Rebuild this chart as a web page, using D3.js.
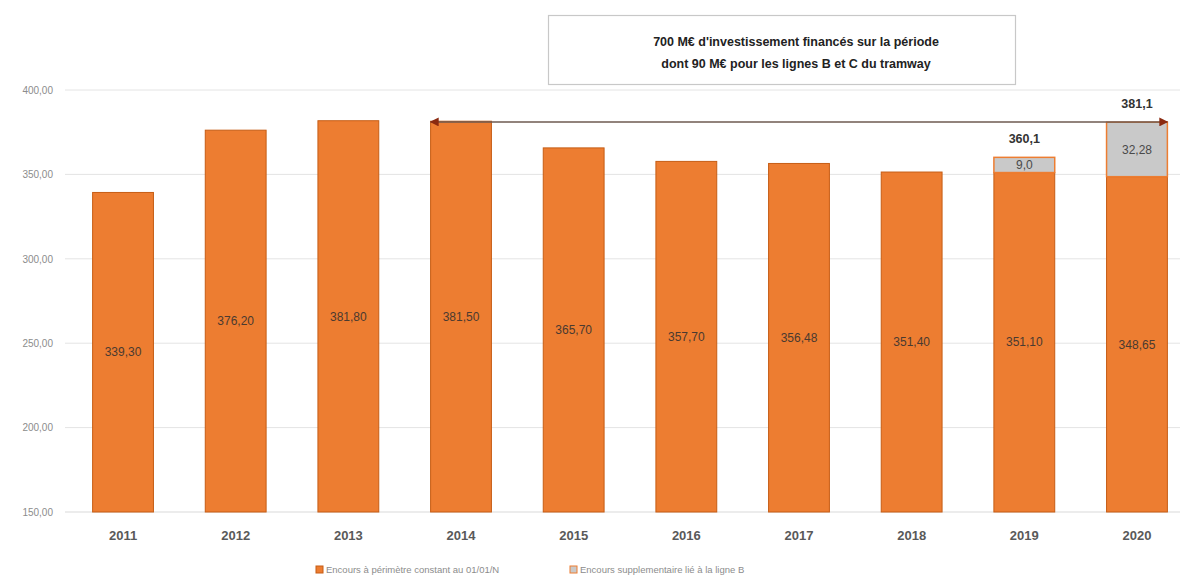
<!DOCTYPE html>
<html><head><meta charset="utf-8">
<script src="https://cdn.jsdelivr.net/npm/d3@7"></script>
<style>body{margin:0;background:#fff}svg{display:block}</style>
</head><body>
<svg id="c" width="1182" height="577"></svg>
<script>
const years = ["2011","2012","2013","2014","2015","2016","2017","2018","2019","2020"];
const baseValues = [339.30,376.20,381.80,381.50,365.70,357.70,356.48,351.40,351.10,348.65];
const baseLabels = ["339,30","376,20","381,80","381,50","365,70","357,70","356,48","351,40","351,10","348,65"];
const extraValues = [0,0,0,0,0,0,0,0,9.0,32.28];
const extraLabels = ["","","","","","","","","9,0","32,28"];
const totalLabels = ["","","","","","","","","360,1","381,1"];
const yTicks = [150,200,250,300,350,400];
const arrowValue = 381.1;
const arrowFrom = "2014", arrowTo = "2020";
const legendLabels = ["Encours à périmètre constant au 01/01/N","Encours supplementaire lié à la ligne B"];
const noteLines = ["700 M€ d'investissement financés sur la période","dont 90 M€ pour les lignes B et C du tramway"];

const svg = d3.select("#c");
const orange = "#ed7d31", orangeStroke = "#c65d15", grey = "#c9c9c9";
const x = d3.scaleBand().domain(years).range([66.7, 1193.3]).paddingInner(0.46).paddingOuter(0.23);
const y = d3.scaleLinear().domain([150, 400]).range([512, 90]);
const fmt = v => d3.format(".2f")(v).replace(".", ",");

// gridlines
svg.append("g").selectAll("line").data(yTicks).join("line")
  .attr("x1", 65).attr("x2", 1180).attr("y1", d => y(d)).attr("y2", d => y(d))
  .attr("stroke", d => d === 150 ? "#d9d9d9" : "#e4e4e4").attr("stroke-width", 1);

// y axis labels
const yAxis = d3.axisLeft(y).tickValues(yTicks).tickSize(0).tickFormat(fmt);
const ya = svg.append("g").attr("transform", "translate(56,0)").call(yAxis);
ya.select(".domain").remove();
ya.selectAll("text").attr("font-family", "Liberation Sans, Arial, sans-serif").attr("font-size", 10).attr("fill", "#8c8c8c");

// base bars
svg.append("g").selectAll("rect").data(years).join("rect")
  .attr("x", d => x(d)).attr("width", x.bandwidth())
  .attr("y", (d, i) => y(baseValues[i])).attr("height", (d, i) => y(150) - y(baseValues[i]))
  .attr("fill", orange).attr("stroke", orangeStroke).attr("stroke-width", 1);

// extra segments
svg.append("g").selectAll("rect").data(years.filter((d, i) => extraValues[i] > 0)).join("rect")
  .attr("x", d => x(d)).attr("width", x.bandwidth())
  .attr("y", d => { const i = years.indexOf(d); return y(baseValues[i] + extraValues[i]); })
  .attr("height", d => { const i = years.indexOf(d); return y(baseValues[i]) - y(baseValues[i] + extraValues[i]); })
  .attr("fill", grey).attr("stroke", orange).attr("stroke-width", 1.5);

// base labels
svg.append("g").selectAll("text").data(years).join("text")
  .attr("x", d => x(d) + x.bandwidth() / 2)
  .attr("y", (d, i) => y((baseValues[i] + 150) / 2))
  .attr("dy", "0.35em").attr("text-anchor", "middle")
  .attr("font-family", "Liberation Sans, Arial, sans-serif").attr("font-size", 12).attr("fill", "#4a3a30")
  .text((d, i) => baseLabels[i]);

// extra labels
svg.append("g").selectAll("text").data(years.filter((d, i) => extraValues[i] > 0)).join("text")
  .attr("x", d => x(d) + x.bandwidth() / 2)
  .attr("y", d => { const i = years.indexOf(d); return y(baseValues[i] + extraValues[i] / 2); })
  .attr("dy", "0.35em").attr("text-anchor", "middle")
  .attr("font-family", "Liberation Sans, Arial, sans-serif").attr("font-size", 12).attr("fill", "#4a4a4a")
  .text(d => extraLabels[years.indexOf(d)]);

// total labels
svg.append("g").selectAll("text").data(years.filter((d, i) => extraValues[i] > 0)).join("text")
  .attr("x", d => x(d) + x.bandwidth() / 2)
  .attr("y", d => { const i = years.indexOf(d); return y(baseValues[i] + extraValues[i]) - 14; })
  .attr("text-anchor", "middle")
  .attr("font-family", "Liberation Sans, Arial, sans-serif").attr("font-size", 12.5).attr("font-weight", "bold").attr("fill", "#333")
  .text(d => totalLabels[years.indexOf(d)]);

// arrow
const defs = svg.append("defs");
defs.append("marker").attr("id", "ah").attr("viewBox", "0 0 10 10").attr("refX", 9).attr("refY", 5)
  .attr("markerWidth", 6).attr("markerHeight", 6).attr("orient", "auto-start-reverse")
  .append("path").attr("d", "M0,0L10,5L0,10z").attr("fill", "#8b2a10");
svg.append("line")
  .attr("x1", x(arrowFrom)).attr("x2", x(arrowTo) + x.bandwidth())
  .attr("y1", y(arrowValue)).attr("y2", y(arrowValue))
  .attr("stroke", "#6e5a50").attr("stroke-width", 1.5)
  .attr("marker-start", "url(#ah)").attr("marker-end", "url(#ah)");

// x axis labels
const xa = svg.append("g").attr("transform", "translate(0,512)").call(d3.axisBottom(x).tickSize(0).tickPadding(19));
xa.select(".domain").remove();
xa.selectAll("text").attr("font-family", "Liberation Sans, Arial, sans-serif").attr("font-size", 13).attr("font-weight", "bold").attr("fill", "#595959");

// note box
svg.append("rect").attr("x", 548.5).attr("y", 15.5).attr("width", 467).attr("height", 69)
  .attr("fill", "#fff").attr("stroke", "#c8c8c8").attr("stroke-width", 1.2);
svg.append("g").selectAll("text").data(noteLines).join("text")
  .attr("x", 796).attr("y", (d, i) => 46 + i * 22).attr("text-anchor", "middle")
  .attr("font-family", "Liberation Sans, Arial, sans-serif").attr("font-size", 12.5).attr("font-weight", "bold").attr("fill", "#222")
  .text(d => d);

// legend
const legX = [316, 570];
const legColors = [orange, grey];
const lg = svg.append("g").selectAll("g").data(legendLabels).join("g")
  .attr("transform", (d, i) => `translate(${legX[i]},566)`);
lg.append("rect").attr("width", 7).attr("height", 7).attr("fill", (d, i) => legColors[i]).attr("stroke", (d, i) => i ? orange : orangeStroke).attr("stroke-width", 1);
lg.append("text").attr("x", 10).attr("y", 7).attr("font-family", "Liberation Sans, Arial, sans-serif").attr("font-size", 9.5).attr("fill", "#8c8c8c").text(d => d);
</script>
</body></html>
